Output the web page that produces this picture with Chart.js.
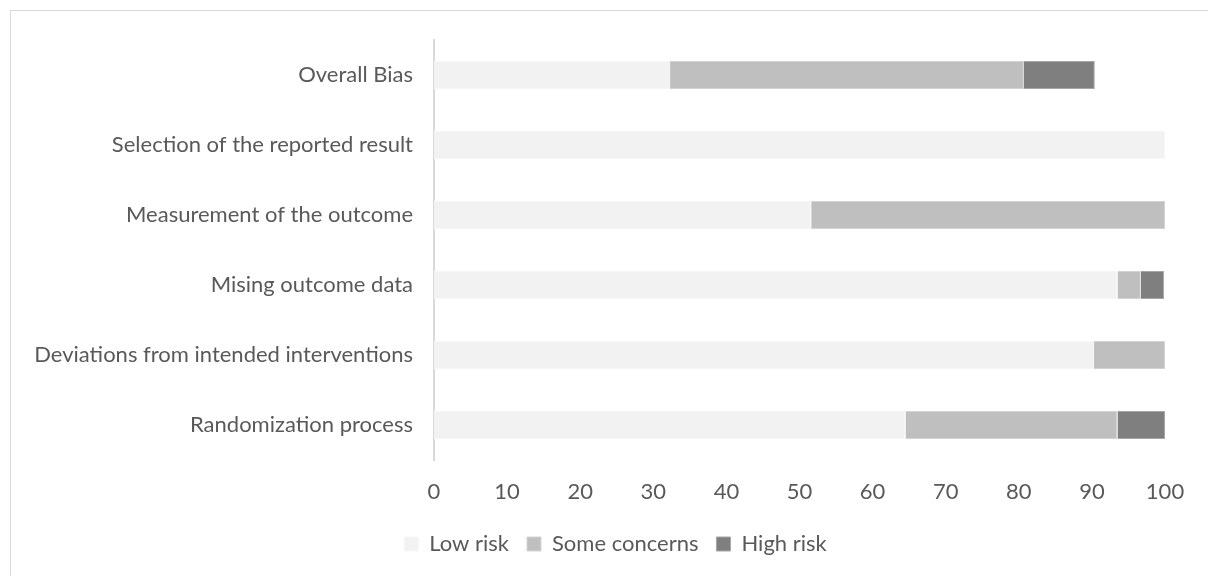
<!DOCTYPE html>
<html lang="en">
<head>
  <meta charset="UTF-8">
  <title>Risk of bias summary</title>
  <script src="https://cdn.jsdelivr.net/npm/chart.js"></script>
  <style>
    html, body { margin: 0; padding: 0; background: #fff; }
    #wrap { position: relative; width: 1208px; height: 576px; overflow: hidden; }
    #frame { position: absolute; left: 10px; top: 10px; width: 1210px; height: 580px;
             border-left: 1px solid #d9d9d9; border-top: 1px solid #d9d9d9; }
    canvas { position: absolute; left: 0; top: 0; }
  </style>
</head>
<body>
  <div id="wrap">
    <div id="frame"></div>
    <canvas id="biasChart" width="1208" height="576"></canvas>
  </div>

  <script>
    // domains, top to bottom
    const domains = [
      'Overall Bias',
      'Selection of the reported result',
      'Measurement of the outcome',
      'Mising outcome data',
      'Deviations from intended interventions',
      'Randomization process'
    ];

    // percent of studies (n = 31)
    const lowRisk = [32.3, 100, 51.6, 93.5, 90.3, 64.5];
    const someConcerns = [48.4, 0, 48.4, 3.2, 9.7, 29.0];
    const highRisk = [9.7, 0, 0, 3.2, 0, 6.5];

    const xTicks = [0, 10, 20, 30, 40, 50, 60, 70, 80, 90, 100];

    const textColor = '#595959';
    const fontFamily = 'Lato, "Noto Sans", sans-serif';

    // the legend in the original sits a bit right of the canvas centre
    const legendShift = {
      id: 'legendShift',
      afterLayout(chart) {
        const lg = chart.legend;
        if (lg) { lg.left += 33; lg.right += 33; }
      }
    };

    const ctx = document.getElementById('biasChart').getContext('2d');
    new Chart(ctx, {
      type: 'bar',
      data: {
        labels: domains,
        datasets: [
          { label: 'Low risk', data: lowRisk, backgroundColor: '#f2f2f2', borderColor: '#f7f7f7', borderWidth: 1 },
          { label: 'Some concerns', data: someConcerns, backgroundColor: '#bfbfbf', borderColor: '#d4d4d4', borderWidth: 1 },
          { label: 'High risk', data: highRisk, backgroundColor: '#7f7f7f', borderColor: '#a6a6a6', borderWidth: 1 }
        ]
      },
      plugins: [legendShift],
      options: {
        indexAxis: 'y',
        responsive: false,
        animation: false,
        layout: { padding: { top: 40, right: 43, left: 0, bottom: 11 } },
        datasets: { bar: { categoryPercentage: 1, barPercentage: 0.4 } },
        scales: {
          x: {
            stacked: true,
            min: 0,
            max: 100,
            afterBuildTicks: (s) => { s.ticks = xTicks.map(v => ({ value: v })); },
            grid: { display: false, drawTicks: false },
            border: { display: false },
            ticks: { color: textColor, padding: 19, font: { family: fontFamily, size: 22 } },
            afterFit: (s) => { s.height = 55; }
          },
          y: {
            stacked: true,
            grid: { display: false, drawTicks: false },
            border: { display: true, color: '#d9d9d9', width: 2 },
            ticks: { color: textColor, padding: 21, font: { family: fontFamily, size: 22 } },
            afterFit: (s) => { s.width = 434; }
          }
        },
        plugins: {
          legend: {
            position: 'bottom',
            labels: {
              color: textColor,
              boxWidth: 14,
              boxHeight: 14,
              padding: 18,
              font: { family: fontFamily, size: 22 }
            }
          },
          tooltip: { enabled: false }
        }
      }
    });
  </script>
</body>
</html>
